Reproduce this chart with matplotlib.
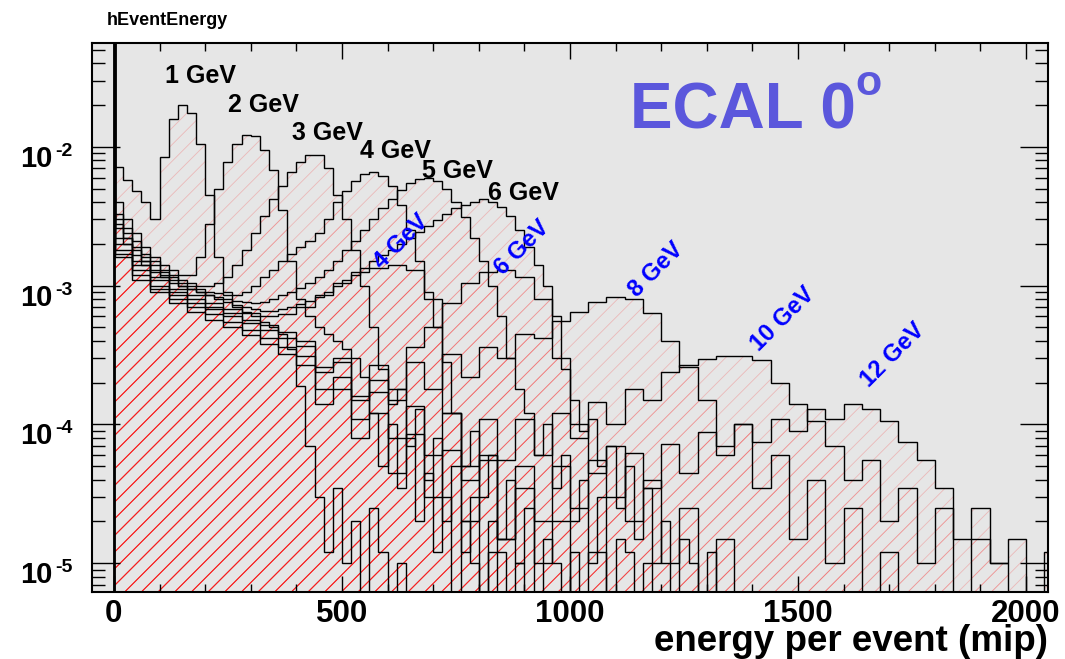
import numpy as np
import matplotlib
matplotlib.use("Agg")
import matplotlib.pyplot as plt
from matplotlib.ticker import MultipleLocator, LogLocator, NullFormatter
from matplotlib.transforms import ScaledTranslation

plt.rcParams['font.family'] = ['Liberation Sans', 'DejaVu Sans']
plt.rcParams['font.weight'] = 'bold'
plt.rcParams['hatch.linewidth'] = 0.6

# Bin contents are fractions of events, stored in units of 1e-4.
UNIT = 1e-4
PEDESTAL = 900.0      # content of the zero-energy bin [0, 2) mip
PED_W = 2.0
FINE_W = 20           # bin width (mip) of the high-statistics runs
COARSE_W = 40         # bin width (mip) of the low-statistics runs

# High-statistics runs, bins [2,20), [20,40), [40,60), ...
run_1gev = [72, 58, 48, 40, 30, 85, 160, 200, 175, 105, 45, 16, 9, 7, 6.5, 6, 5.5, 5,
            4.5, 3.5, 1.9, 0.7, 0.3, 0.12, 0.35, 0.1, 0.2, 0, 0.25, 0.12, 0, 0.1, 0]
run_2gev = [40, 30, 24, 19, 16, 14, 13, 12, 12, 16, 28, 50, 78, 105, 122, 120, 95, 68,
            35, 15, 8, 6, 5, 4.5, 4, 3.5, 3, 2.2, 1.2, 0.5, 1.0, 0.35, 0.8, 0.2, 0.45,
            0.12, 0.3, 0, 0.2, 0.1, 0, 0.12, 0]
run_3gev = [33, 26, 21, 17, 15, 13, 12, 11, 10.5, 10, 10, 10.5, 11.5, 14, 18, 24, 32, 42,
            52, 66, 78, 87, 88, 70, 45, 30, 18, 10, 5, 2.5, 1.4, 1.8, 0.7, 1.3, 0.4, 0.8,
            0.2, 0.5, 0.12, 0.3, 0, 0.2, 0.12, 0, 0.1, 0]
run_4gev = [30, 24, 19, 16, 14, 12.5, 11.5, 10.5, 10, 9.5, 9, 8.8, 8.6, 8.6, 9, 10, 11.5,
            13, 15, 17, 19, 21, 24, 30, 40, 48, 57, 64, 66, 62, 52, 38, 25, 15, 9, 5, 2.8,
            1.2, 0.5, 0.9, 0.3, 0.6, 0.15, 0.4, 0.1, 0.25, 0, 0.15, 0.1, 0, 0.12, 0]
run_5gev = [28, 22, 18, 15, 13, 12, 11, 10, 9.5, 9, 8.6, 8.3, 8, 7.8, 7.6, 7.5, 7.6, 8,
            8.5, 9, 9.6, 10.5, 11.5, 13, 15, 18, 21, 25, 30, 36, 42, 49, 55, 59, 60, 57,
            50, 40, 31, 22, 15, 10, 6, 3, 1.8, 1.2, 0.6, 1.0, 0.35, 0.6, 0.2, 0.4, 0.1,
            0.3, 0, 0.15, 0.12, 0, 0.1, 0]
run_6gev = [26, 20, 16.5, 14, 12.5, 11.5, 10.5, 10, 9.5, 9, 8.5, 8, 7.6, 7.2, 7, 6.8,
            6.6, 6.6, 6.8, 7, 7.4, 7.8, 8.3, 9, 10, 11, 12, 13.5, 15, 16.5, 18, 20, 22,
            24.5, 27, 29.5, 33, 36, 38, 40, 42, 40, 37, 32, 25, 19, 14, 10, 6, 2.5, 1.5,
            0.9, 1.1, 0.5, 0.7, 0.25, 0.5, 0.15, 0.35, 0.1, 0.2, 0, 0.15, 0.1, 0, 0.12, 0]

# Low-statistics runs, bins [2,40), [40,80), [80,120), ...
run_b4gev = [22, 15, 11.5, 9.5, 8.5, 7.5, 6.8, 6.3, 6, 6.2, 7, 8.5, 10.5, 12.5, 13.5, 14,
             13, 8, 1.2, 0.4, 0.6, 0.15, 0.35, 0.1, 0.2, 0, 0.12, 0]
run_b6gev = [20, 14, 11, 9, 8, 7, 6.3, 5.7, 5.2, 4.6, 4, 2.6, 2.8, 1.5, 2.1, 1.8, 3.6, 5,
             7.5, 10.5, 12.5, 13, 11.5, 8, 3, 1.0, 0.45, 0.7, 0.2, 0.4, 0.1, 0.25, 0,
             0.15, 0]
run_b8gev = [18, 13, 10, 8.5, 7.5, 6.8, 6, 5.4, 4.8, 4.2, 3.7, 2.4, 3.0, 1.6, 2.7, 1.5,
             2.8, 1.8, 3.2, 2.2, 3.6, 3.0, 4.5, 4.2, 5.6, 6.5, 7.6, 8.3, 8.0, 6.3, 4.0,
             2.6, 1.5, 0.7, 1.0, 0.35, 0.6, 0.15, 0.4, 0.1, 0.25, 0, 0.12, 0]
run_b10gev = [17, 12, 9.5, 8, 7, 6.2, 5.5, 4.8, 4.2, 3.6, 3.1, 1.8, 2.2, 1.1, 1.7, 0.8,
              1.35, 0.6, 1.2, 0.5, 1.1, 0.55, 1.1, 0.6, 1.2, 0.8, 1.45, 1.0, 1.8, 1.5,
              2.4, 2.7, 2.95, 3.1, 3.1, 2.9, 2.0, 1.4, 1.05, 0.7, 0.4, 0.55, 0.2, 0.35,
              0.1, 0.25, 0, 0.15, 0.1, 0]
run_b12gev = [16, 11, 9, 7.5, 6.5, 5.7, 5, 4.4, 3.8, 3.2, 2.7, 1.4, 1.8, 0.8, 1.2, 0.45,
              0.85, 0.3, 0.65, 0.2, 0.55, 0.15, 0.5, 0.2, 0.5, 0.25, 0.55, 0.3, 0.62,
              0.35, 0.72, 0.45, 0.88, 0.6, 1.0, 0.75, 1.1, 0.9, 1.3, 1.1, 1.4, 1.3, 1.05,
              0.75, 0.55, 0.35, 0.15, 0.25, 0.1, 0.15, 0, 0.12, 0]

runs = [(run_1gev, FINE_W), (run_2gev, FINE_W), (run_3gev, FINE_W), (run_4gev, FINE_W),
        (run_5gev, FINE_W), (run_6gev, FINE_W), (run_b4gev, COARSE_W),
        (run_b6gev, COARSE_W), (run_b8gev, COARSE_W), (run_b10gev, COARSE_W),
        (run_b12gev, COARSE_W)]

# Beam-energy annotations
black_labels = ["1 GeV", "2 GeV", "3 GeV", "4 GeV", "5 GeV", "6 GeV"]
black_label_x = [112, 250, 390, 539, 675, 820]
black_label_y = [2.88e-2, 1.79e-2, 1.12e-2, 8.3e-3, 5.98e-3, 4.16e-3]
blue_labels = ["4 GeV", "6 GeV", "8 GeV", "10 GeV", "12 GeV"]
blue_label_x = [588, 853, 1147, 1415, 1656]
blue_label_y = [1.30e-3, 1.18e-3, 8.2e-4, 3.35e-4, 1.82e-4]
decades = [-5, -4, -3, -2]

X_MIN, X_MAX = -48, 2048
Y_MIN, Y_MAX = 6.2e-6, 0.056
FLOOR = 1e-9

W, H = 1065, 659
fig = plt.figure(figsize=(W / 100, H / 100), dpi=100)
ax = fig.add_axes([92 / W, (H - 592) / H, (1048 - 92) / W, (592 - 43) / H])
ax.set_facecolor('#e6e6e6')
ax.set_yscale('log')
ax.set_xlim(X_MIN, X_MAX)
ax.set_ylim(Y_MIN, Y_MAX)

hists = []
for vals, width in runs:
    content = np.r_[PEDESTAL, np.asarray(vals, float)] * UNIT
    content = np.where(content > 0, content, FLOOR)
    edges = np.r_[0.0, PED_W, width * np.arange(1, len(vals) + 1)]
    hists.append((edges, content))

# hatched red fill below every histogram
for edges, content in hists:
    ax.fill_between(edges, np.r_[content, content[-1]], FLOOR, step='post',
                    facecolor='none', edgecolor=(1.0, 0.0, 0.0, 0.2),
                    hatch='//', linewidth=0, zorder=1)
for edges, content in hists:
    ax.stairs(content, edges, baseline=FLOOR, color='black', lw=1.0, zorder=2)

for s, x, y in zip(black_labels, black_label_x, black_label_y):
    ax.text(x, y, s, fontsize=18, fontweight='bold', color='black',
            ha='left', va='baseline', zorder=5)
for s, x, y in zip(blue_labels, blue_label_x, blue_label_y):
    ax.text(x, y, s, fontsize=17, fontweight='bold', color='#0000ff',
            ha='left', va='baseline', rotation=45, rotation_mode='anchor', zorder=5)

# "ECAL 0" with a raised o
ax.text(0.5626, 0.845, "ECAL 0", transform=ax.transAxes, fontsize=46,
        fontweight='bold', color='#5b57dc', ha='left', va='baseline')
ax.text(0.798, 0.905, "o", transform=ax.transAxes, fontsize=31,
        fontweight='bold', color='#5b57dc', ha='left', va='baseline')

# axes and ticks
ax.xaxis.set_major_locator(MultipleLocator(500))
ax.xaxis.set_minor_locator(MultipleLocator(100))
ax.yaxis.set_major_locator(LogLocator(base=10, numticks=20))
ax.yaxis.set_minor_locator(LogLocator(base=10, subs=np.arange(2, 10), numticks=20))
ax.yaxis.set_minor_formatter(NullFormatter())
ax.yaxis.set_major_formatter(NullFormatter())
ax.tick_params(which='both', direction='in', top=True, right=True, width=1.0)
ax.tick_params(axis='x', which='major', length=11.5, pad=5, labelsize=22.5)
ax.tick_params(axis='x', which='minor', length=5.8)
ax.tick_params(axis='y', which='major', length=20)
ax.tick_params(axis='y', which='minor', length=9.5)
for lab in ax.get_xticklabels():
    lab.set_fontweight('bold')
for sp in ax.spines.values():
    sp.set_linewidth(1.5)

# decade labels: "10" with a raised exponent, baseline below each major tick
ytrans = ax.get_yaxis_transform()
base_shift = ScaledTranslation(0, -0.20, fig.dpi_scale_trans)
exp_shift = ScaledTranslation(0, -0.09, fig.dpi_scale_trans)
for d in decades:
    ax.text(-39 / 956, 10.0 ** d, "10", fontsize=21, fontweight='bold',
            transform=ytrans + base_shift, ha='right', va='baseline')
    ax.text(-37 / 956, 10.0 ** d, "%d" % d, fontsize=14, fontweight='bold',
            transform=ytrans + exp_shift, ha='left', va='baseline')

fig.text(1048 / W, (H - 651) / H, "energy per event (mip)", fontsize=26.5,
         fontweight='bold', ha='right', va='baseline')
fig.text(107 / W, (H - 25) / H, "hEventEnergy", fontsize=13, fontweight='bold',
         ha='left', va='baseline')

fig.savefig("out.png", dpi=100)
